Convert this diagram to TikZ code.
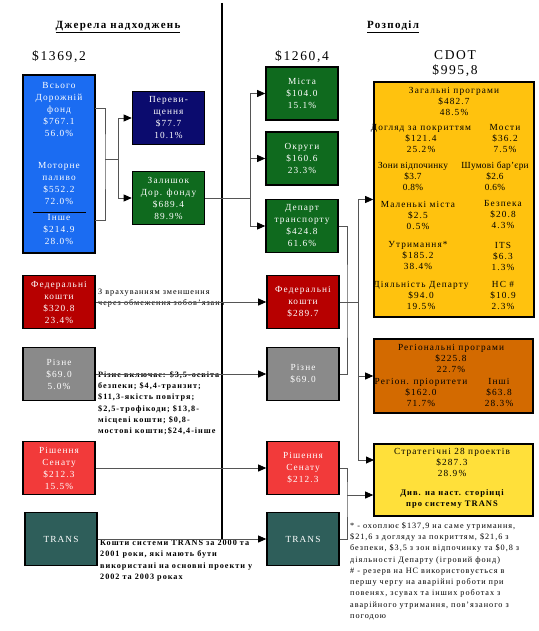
\documentclass[tikz,border=0pt]{standalone}
\usepackage{fontspec}
\setmainfont{Liberation Serif}[LetterSpace=12]
\usetikzlibrary{arrows.meta}

\definecolor{fundblue}{HTML}{1B6CF2}
\definecolor{excessnavy}{HTML}{0B0B6E}
\definecolor{roadgreen}{HTML}{0F6A1E}
\definecolor{fedred}{HTML}{B70000}
\definecolor{miscgray}{HTML}{8A8A8A}
\definecolor{senred}{HTML}{F23A3A}
\definecolor{transteal}{HTML}{2E5E5A}
\definecolor{cdotgold}{HTML}{FFC20E}
\definecolor{regorange}{HTML}{D36A00}
\definecolor{stratyellow}{HTML}{FFE03A}
\definecolor{linkgray}{HTML}{555555}

\newcommand\boxfont{\fontsize{9.3}{12}\selectfont}
\newcommand\tabfont{\fontsize{9.3}{11}\selectfont}
\newcommand\tightfont{\fontsize{9.3}{11}\selectfont\addfontfeature{LetterSpace=3}}
\newcommand\notefont{\fontsize{8.2}{11.3}\selectfont}
\newcommand\sumfont{\fontsize{13.5}{15}\selectfont}
\newcommand\headfont{\fontsize{11}{12}\selectfont\bfseries}

\tikzset{
  box/.style={draw=black, line width=1.6pt, align=center, inner sep=1pt,
    text=white, font=\boxfont, minimum width=72pt, minimum height=53pt},
  txt/.style={align=center, inner sep=0pt},
  link/.style={draw=linkgray, line width=0.8pt},
  arr/.style={link, -{Triangle[color=black,length=8pt,width=7pt]}},
}

\begin{document}
\begin{tikzpicture}[x=1pt,y=-1pt]
  \useasboundingbox (0,0) rectangle (538,631);
  % headings
  \node[txt,font=\headfont] (srchead)  at (118,27) {\underline{Джерела надходжень}};
  \node[txt,font=\headfont] (disthead) at (393,27) {\underline{Розподіл}};
  \node[txt,font=\sumfont] (srcsum)  at (59,57)  {\$1369,2};
  \node[txt,font=\sumfont] (midsum)  at (302,57) {\$1260,4};
  \node[txt,font=\sumfont] (cdotsum) at (455,64) {CDOT\\\$995,8};
  \draw[line width=1.5pt] (222,3) -- (222,540);

  % sources
  \node[box,fill=fundblue,minimum height=178pt] (fund) at (59,164) {};
  \node[txt,text=white,font=\boxfont] (fundtxt)  at (59,110) {Всього\\Дорожній\\фонд\\\$767.1\\56.0\%};
  \node[txt,text=white,font=\boxfont] (fueltxt)  at (59,184) {Моторне\\паливо\\\$552.2\\72.0\%};
  \node[txt,text=white,font=\boxfont] (othertxt) at (59,230) {Інше\\\$214.9\\28.0\%};
  \draw[black,line width=1pt] (33,212) -- (86,212);
  \node[box,fill=excessnavy] (excess)  at (168.5,118) {Переви-\\щення\\\$77.7\\10.1\%};
  \node[box,fill=roadgreen]  (surplus) at (168.5,198) {Залишок\\Дор. фонду\\\$689.4\\89.9\%};
  \node[box,fill=fedred]     (fedsrc)   at (59,302) {Федеральні\\кошти\\\$320.8\\23.4\%};
  \node[box,fill=miscgray]   (miscsrc)  at (59,374) {Різне\\\$69.0\\5.0\%};
  \node[box,fill=senred]     (sensrc)   at (59,468) {Рішення\\Сенату\\\$212.3\\15.5\%};
  \node[box,fill=transteal]  (transsrc) at (61,539) {TRANS};

  % middle column
  \node[box,fill=roadgreen]  (cities)   at (302,93.5)  {Міста\\\$104.0\\15.1\%};
  \node[box,fill=roadgreen]  (counties) at (302,158.5) {Округи\\\$160.6\\23.3\%};
  \node[box,fill=roadgreen]  (dept)     at (302,226)   {Департ\\транспорту\\\$424.8\\61.6\%};
  \node[box,fill=fedred]     (fedmid)   at (303,302) {Федеральні\\кошти\\\$289.7};
  \node[box,fill=miscgray]   (miscmid)  at (303,374) {Різне\\\$69.0};
  \node[box,fill=senred]     (senmid)   at (303,468) {Рішення\\Сенату\\\$212.3};
  \node[box,fill=transteal]  (transmid) at (303,539) {TRANS};

  % notes
  \node[txt,anchor=west,align=left,font=\notefont] (fednote) at (98,298)
    {З врахуванням зменшення\\через обмеження зобов'язань};
  \node[txt,anchor=north west,align=left,font=\notefont\bfseries] (miscnote) at (98,371)
    {Різне включає: \$3,5-освіта\\безпеки; \$4,4-транзит;\\\$11,3-якість повітря;\\\$2,5-трофікоди; \$13,8-\\місцеві кошти; \$0,8-\\мостові кошти;\$24,4-інше};
  \node[txt,anchor=north west,align=left,font=\notefont\bfseries] (transnote) at (100,540)
    {Кошти системи TRANS за 2000 та\\2001 роки, які мають бути\\використані на основні проекти у\\2002 та 2003 роках};

  % CDOT
  \node[box,fill=cdotgold,minimum width=160pt,minimum height=235pt] (cdot) at (454,199.5) {};
  \node[txt,font=\tabfont] (gentxt) at (454,101) {Загальні програми\\\$482.7\\48.5\%};
  \node[txt,font=\tabfont] (pave)   at (421,139) {Догляд за покриттям\\\$121.4\\25.2\%};
  \node[txt,font=\tabfont] (bridge) at (505,139) {Мости\\\$36.2\\7.5\%};
  \node[txt,font=\tightfont] (rest)   at (413,176) {Зони відпочинку\\\$3.7\\0.8\%};
  \node[txt,font=\tightfont] (noise)  at (495,176) {Шумові бар'єри\\\$2.6\\0.6\%};
  \node[txt,font=\tabfont] (towns)  at (418,215) {Маленькі міста\\\$2.5\\0.5\%};
  \node[txt,font=\tabfont] (safety) at (503,215) {Безпека\\\$20.8\\4.3\%};
  \node[txt,font=\tabfont] (maint)  at (418,256) {Утримання*\\\$185.2\\38.4\%};
  \node[txt,font=\tabfont] (its)    at (503,256) {ITS\\\$6.3\\1.3\%};
  \node[txt,font=\tabfont] (ops)    at (421,295) {Діяльність Департу\\\$94.0\\19.5\%};
  \node[txt,font=\tabfont] (emerg)  at (503,295) {НС \#\\\$10.9\\2.3\%};
  \node[box,fill=regorange,minimum width=159pt,minimum height=74pt] (regional) at (453.5,376) {};
  \node[txt,font=\tabfont] (regtxt)   at (451,358) {Регіональні програми\\\$225.8\\22.7\%};
  \node[txt,font=\tabfont] (regprio)  at (421,392) {Регіон. пріоритети\\\$162.0\\71.7\%};
  \node[txt,font=\tabfont] (regother) at (499,392) {Інші\\\$63.8\\28.3\%};
  \node[box,fill=stratyellow,minimum width=159pt,minimum height=72pt] (strategic) at (453.5,480) {};
  \node[txt,font=\tabfont] (strattxt) at (452,462) {Стратегічні 28 проектів\\\$287.3\\28.9\%};
  \node[txt,font=\fontsize{8.5}{11}\selectfont\bfseries] (stratnote) at (452,499) {Див. на наст. сторінці\\про систему TRANS};
  \node[txt,anchor=north west,align=left,font=\notefont] (footnote) at (350,522)
    {* - охоплює \$137,9 на саме утримання,\\\$21,6 з догляду за покриттям, \$21,6 з\\безпеки, \$3,5 з зон відпочинку та \$0,8 з\\діяльності Департу (ігровий фонд)\\\# - резерв на НС використовується в\\першу чергу на аварійні роботи при\\повенях, зсувах та інших роботах з\\аварійного утримання, пов'язаного з\\погодою};

  % connectors
  \coordinate (fundtop) at (95,108);
  \coordinate (fundbot) at (95,220);
  \coordinate (fundmid) at (105,159);
  \coordinate (fundhub) at (118,159);
  \draw[link] (fundtop) -| (fundmid) |- (fundbot);
  \draw[link] (fundmid) -- (fundhub);
  \draw[arr] (fundhub) |- (excess.west);
  \draw[arr] (fundhub) |- (surplus.west);

  \coordinate (hub1) at (250,198);
  \draw[link] (surplus.east) -- (hub1);
  \draw[arr] (hub1) |- (cities.west);
  \draw[arr] (hub1) |- (counties.west);
  \draw[arr] (hub1) |- (dept.west);

  \path[arr] (fedsrc)   edge (fedmid);
  \path[arr] (miscsrc)  edge (miscmid);
  \path[arr] (sensrc)   edge (senmid);
  \path[arr] (transsrc) edge (transmid);

  \coordinate (deptbr) at (347,302);
  \coordinate (hub2) at (358,302);
  \coordinate (stratin) at (374,460);
  \draw[link] (dept.east) -| (deptbr) |- (miscmid.east);
  \draw[link] (fedmid.east) -- (hub2);
  \draw[arr] (hub2) |- (cdot.west);
  \draw[arr] (hub2) |- (regional.west);
  \draw[arr] (hub2) |- (stratin);

  \coordinate (senbr) at (347,495);
  \draw[link] (senmid.east) -| (senbr) |- (transmid.east);
  \draw[arr] (senbr) -- (senbr -| strategic.west);
\end{tikzpicture}
\end{document}
